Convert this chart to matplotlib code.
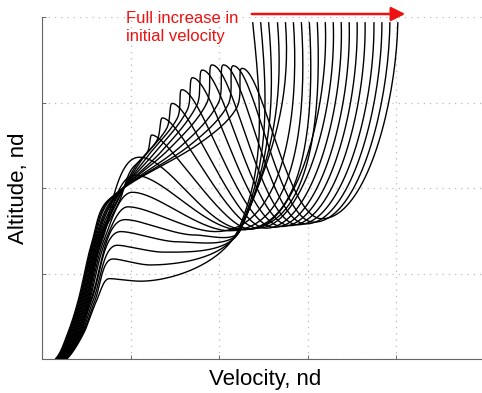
import numpy as np
import matplotlib
matplotlib.use("Agg")
import matplotlib.pyplot as plt
from matplotlib.patches import FancyArrowPatch

# ---- trajectory family (nondimensional velocity / altitude) ----
# entry point at the top of the altitude range, one value per trajectory
v_entry = [2.38, 2.47, 2.56, 2.66, 2.75, 2.84, 2.93, 3.02, 3.11, 3.20,
           3.29, 3.38, 3.47, 3.56, 3.65, 3.75, 3.84, 3.93, 4.02]
h_entry = 3.94
entry_lean = [0.10, 0.09, 0.085, 0.08, 0.075, 0.07, 0.065, 0.06, 0.05, 0.045,
              0.04, 0.035, 0.03, 0.02, 0.015, 0.01, 0.0, -0.01, -0.02]

# common crossing passed by the steepest entries
v_pinch = [2.22, 2.23, 2.24, 2.24, 2.24]
h_pinch = [1.52, 1.515, 1.51, 1.51, 1.51]

# first altitude minimum
v_dip = [1.11, 1.22, 1.37, 1.54, 1.73, 1.96, 2.12, 2.24, 2.29, 2.35,
         2.44, 2.53, 2.62, 2.71, 2.80, 2.89, 2.98, 3.07, 3.16]
h_dip = [0.91, 1.10, 1.25, 1.37, 1.45, 1.49, 1.50, 1.51, 1.515, 1.52,
         1.53, 1.53, 1.54, 1.55, 1.56, 1.57, 1.58, 1.60, 1.64]

# skip apex (or shoulder for the shallow ones)
v_apex = [0.76, 0.80, 0.85, 0.89, 0.94, 0.97, 1.02, 1.05, 1.10, 1.24,
          1.36, 1.47, 1.58, 1.70, 1.81, 1.92, 2.05, 2.16, 2.26]
h_apex = [0.94, 1.17, 1.33, 1.49, 1.63, 1.78, 1.95, 2.15, 2.36, 2.62,
          2.82, 2.99, 3.15, 3.29, 3.38, 3.44, 3.44, 3.43, 3.40]

# descent after the apex (skipping trajectories only)
v_fall = [1.19, 1.30, 1.41, 1.53, 1.64, 1.75, 1.86, 1.99, 2.10, 2.20]
h_fall = [2.42, 2.56, 2.70, 2.82, 2.91, 2.97, 2.99, 2.99, 2.97, 2.94]
v_rejoin = [1.00, 1.06, 1.12, 1.20, 1.28, 1.36, 1.45, 1.56, 1.67, 1.79]
h_rejoin = [2.20, 2.26, 2.32, 2.38, 2.42, 2.44, 2.47, 2.48, 2.50, 2.53]
v_glide_hi = [0.88, 0.86, 0.85, 0.83, 0.81, 0.80, 0.79, 0.77, 0.76, 0.75]
h_glide_hi = 1.86

# final glide to the ground
v_glide_mid = [0.72, 0.70, 0.68, 0.67, 0.66, 0.65, 0.64, 0.63, 0.62,
               0.61, 0.60, 0.59, 0.58, 0.57]
h_glide_mid = 1.39
v_glide_lo = [0.62, 0.60, 0.58, 0.56, 0.55, 0.54, 0.53, 0.52, 0.51, 0.50,
              0.49, 0.48, 0.47, 0.46, 0.45, 0.44, 0.43, 0.42, 0.41]
h_glide_lo = 0.69
v_glide_base = [0.47, 0.46, 0.45, 0.44, 0.43, 0.42, 0.41, 0.40, 0.39, 0.38,
                0.37, 0.36, 0.35, 0.34, 0.33, 0.32, 0.31, 0.30, 0.29]
h_glide_base = 0.30
v_land = [0.28, 0.27, 0.265, 0.26, 0.25, 0.245, 0.24, 0.23, 0.225, 0.22,
          0.21, 0.205, 0.20, 0.19, 0.185, 0.18, 0.17, 0.16, 0.15]

n_traj = len(v_entry)
n_steep = len(v_pinch)
n_skip = len(v_fall)
first_skip = n_traj - n_skip
first_mid = n_traj - len(v_glide_mid)


def smooth_path(nodes, samples=40):
    """Cubic Hermite curve through (x, y, direction, tension_in, tension_out)."""
    pts = np.array([[n[0], n[1]] for n in nodes], float)
    dirs = []
    for k, n in enumerate(nodes):
        d = n[2]
        if d is None:
            d = pts[min(k + 1, len(pts) - 1)] - pts[max(k - 1, 0)]
        d = np.asarray(d, float)
        dirs.append(d / np.hypot(*d))
    t = np.linspace(0, 1, samples)[:, None]
    h00 = 2 * t**3 - 3 * t**2 + 1
    h10 = t**3 - 2 * t**2 + t
    h01 = -2 * t**3 + 3 * t**2
    h11 = t**3 - t**2
    out = []
    for k in range(len(pts) - 1):
        p0, p1 = pts[k], pts[k + 1]
        c = np.hypot(*(p1 - p0))
        m0 = dirs[k] * nodes[k][4] * c
        m1 = dirs[k + 1] * nodes[k + 1][3] * c
        seg = h00 * p0 + h10 * m0 + h01 * p1 + h11 * m1
        out.append(seg if k == 0 else seg[1:])
    return np.vstack(out)


fig = plt.figure(figsize=(4.82, 3.93), dpi=100)
ax = fig.add_axes([42 / 482, 34 / 393, 442.6 / 482, 342 / 393])

for i in range(n_traj):
    skip = i >= first_skip
    nodes = [(v_entry[i], h_entry, (entry_lean[i], -1.0), 1.0, 1.2)]
    if i < n_steep:
        nodes.append((v_pinch[i], h_pinch[i], None, 1.0, 1.0))
    if skip:
        nodes.append((v_dip[i], h_dip[i], (-1.0, 0.0), 0.6, 0.6))
        nodes.append((v_apex[i], h_apex[i], (-1.0, 0.0), 0.35, 0.35))
        j = i - first_skip
        nodes.append((v_fall[j], h_fall[j], None, 1.0, 1.0))
        nodes.append((v_rejoin[j], h_rejoin[j], None, 1.0, 1.0))
        nodes.append((v_glide_hi[j], h_glide_hi, None, 1.0, 1.0))
    else:
        nodes.append((v_dip[i], h_dip[i], (-1.0, 0.0), 0.9, 0.9))
        nodes.append((v_apex[i], h_apex[i], (-1.0, 0.0), 0.7, 0.7))
    if i >= first_mid:
        nodes.append((v_glide_mid[i - first_mid], h_glide_mid, None, 1.0, 1.0))
    nodes.append((v_glide_lo[i], h_glide_lo, None, 1.0, 1.0))
    nodes.append((v_glide_base[i], h_glide_base, None, 1.0, 1.0))
    nodes.append((v_land[i], 0.0, (-1.0, -1.0), 0.8, 0.8))
    path = smooth_path(nodes)
    ax.plot(path[:, 0], path[:, 1], color="black", lw=1.0, solid_capstyle="butt")

ax.set_xlim(0, 5)
ax.set_ylim(0, 4)
ax.set_xticks([0, 1, 2, 3, 4, 5])
ax.set_yticks([0, 1, 2, 3, 4])
ax.set_xticklabels([])
ax.set_yticklabels([])
ax.tick_params(direction="in", length=3, width=0.6, color="#555555")
ax.grid(True, color="#bbbbbb", linestyle=(0, (1, 4)), linewidth=0.9)
for side in ("top", "right"):
    ax.spines[side].set_visible(False)
for side in ("left", "bottom"):
    ax.spines[side].set_color("#666666")
    ax.spines[side].set_linewidth(0.8)

label_font = ["Liberation Sans", "DejaVu Sans"]
fig.text(265 / 482, 1 - 379 / 393, "Velocity, nd", ha="center", va="center",
         fontsize=16, family=label_font)
fig.text(19 / 482, 1 - 188 / 393, "Altitude, nd", ha="center", va="center",
         rotation=90, fontsize=16, family=label_font)

fig.text(126 / 482, 1 - 27.5 / 393, "Full increase in\ninitial velocity",
         ha="left", va="center", color="#ee1111", fontsize=12,
         linespacing=1.32, family=label_font)
fig.add_artist(FancyArrowPatch(
    (249 / 482, 1 - 14 / 393), (408 / 482, 1 - 14 / 393),
    transform=fig.transFigure, arrowstyle="-|>,head_length=6,head_width=3",
    mutation_scale=1.4, color="#ee1111", lw=1.8))

fig.savefig("out.png", dpi=100)
